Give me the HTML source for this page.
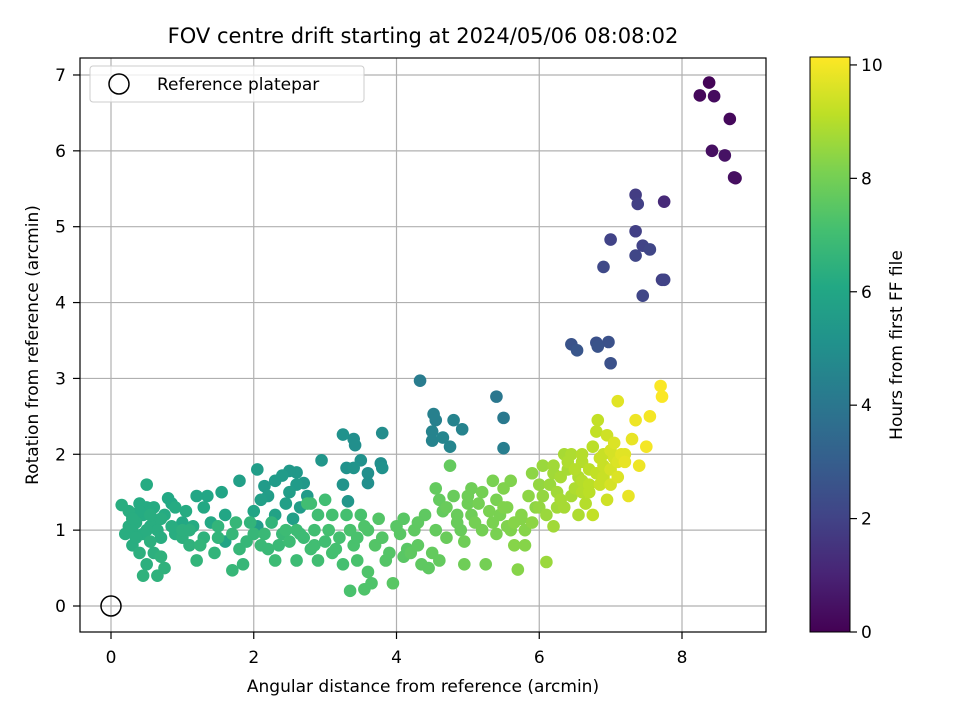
<!DOCTYPE html>
<html><head><meta charset="utf-8"><style>
body{margin:0;background:#fff;}
svg{display:block;font-family:"DejaVu Sans","Liberation Sans",sans-serif;}
</style></head><body>
<svg id="chart" width="960" height="720" viewBox="0 0 960 720">
<defs>
<linearGradient id="vir" x1="0" y1="1" x2="0" y2="0">
<stop offset="0" stop-color="#440154"/><stop offset="0.1" stop-color="#482475"/><stop offset="0.2" stop-color="#414487"/><stop offset="0.3" stop-color="#355f8d"/><stop offset="0.4" stop-color="#2a788e"/><stop offset="0.5" stop-color="#21918c"/><stop offset="0.6" stop-color="#22a884"/><stop offset="0.7" stop-color="#44bf70"/><stop offset="0.8" stop-color="#7ad151"/><stop offset="0.9" stop-color="#bddf26"/><stop offset="1" stop-color="#fde725"/>
</linearGradient>
<clipPath id="plotclip"><rect x="80" y="58" width="686" height="574"/></clipPath>
</defs>
<text x="423" y="43" font-size="21" text-anchor="middle">FOV centre drift starting at 2024/05/06 08:08:02</text>
<g id="grid"></g>
<g id="points" clip-path="url(#plotclip)"></g>
<circle id="refpt" r="10" fill="none" stroke="#000" stroke-width="1.5"/>
<rect x="80" y="58" width="686" height="574" fill="none" stroke="#000" stroke-width="1.2"/>
<g id="ticks"></g>
<text x="423" y="692" font-size="17" text-anchor="middle">Angular distance from reference (arcmin)</text>
<text transform="translate(38,345) rotate(-90)" font-size="17" text-anchor="middle">Rotation from reference (arcmin)</text>
<g>
<rect x="90" y="66" width="274" height="36" rx="3" fill="#fff" fill-opacity="0.8" stroke="#ccc"/>
<circle cx="119" cy="84" r="10" fill="none" stroke="#000" stroke-width="1.5"/>
<text x="157" y="90" font-size="17">Reference platepar</text>
</g>
<rect x="810" y="57" width="40" height="575" fill="url(#vir)" stroke="#000" stroke-width="1"/>
<g id="cbticks"></g>
<text transform="translate(902,345) rotate(-90)" font-size="17" text-anchor="middle">Hours from first FF file</text>
</svg>
<script>
const xTicks=[0,2,4,6,8];
const yTicks=[0,1,2,3,4,5,6,7];
const cbTicks=[0,2,4,6,8,10];
const px=[8.38,8.25,8.45,8.67,8.42,8.6,8.75,8.73,7.75,7.35,7.38,7.35,7.0,7.45,7.55,7.35,6.9,7.72,7.75,7.45,6.45,6.53,6.8,6.82,6.97,7.0,4.33,5.4,5.5,4.52,4.55,4.5,4.5,4.65,4.8,4.92,4.75,5.5,3.8,3.4,3.42,3.25,3.5,3.6,3.6,3.78,3.8,3.3,3.4,3.25,3.32,2.95,2.6,2.5,2.4,2.3,2.15,2.05,1.8,2.2,2.5,2.6,2.7,2.65,2.55,2.75,2.1,2.3,2.0,1.55,1.6,1.35,1.3,1.4,1.2,1.05,1.15,0.9,0.8,0.85,0.75,0.6,0.5,0.45,0.4,0.3,0.25,0.2,0.3,0.45,0.55,0.6,0.5,0.65,0.7,0.4,0.5,0.45,0.65,0.75,0.7,0.35,0.25,0.55,0.15,0.9,1.0,1.1,1.2,1.25,1.45,1.5,1.7,1.8,1.7,1.85,1.95,2.0,2.1,2.2,2.3,2.25,2.4,2.5,2.6,2.7,2.8,2.85,2.9,3.0,3.1,3.2,3.25,3.35,3.4,3.45,3.35,3.55,3.6,3.65,3.5,3.7,3.75,3.95,3.1,2.8,3.0,3.3,3.6,3.8,4.0,4.1,4.2,4.3,4.35,4.45,4.5,4.6,4.1,4.25,4.4,4.55,4.7,4.55,4.75,4.8,4.85,4.9,4.95,5.0,5.1,5.2,5.25,4.95,5.3,5.4,5.5,5.6,5.65,5.7,5.8,5.75,5.85,5.9,6.0,6.0,6.05,6.1,6.1,6.2,6.25,6.3,6.35,6.4,6.45,6.5,6.55,6.6,6.65,6.7,6.75,6.8,6.82,6.85,6.9,6.95,6.95,7.0,7.05,7.1,7.1,7.15,7.2,7.25,7.3,7.35,7.4,7.5,7.55,7.7,7.72,6.6,6.85,7.0,7.05,6.7,6.5,6.3,6.6,5.2,5.35,5.5,5.9,5.0,4.7,4.3,3.9,5.4,5.6,5.8,6.2,6.35,2.75,2.9,2.6,
0.35,0.5,0.7,0.85,1.0,0.4,0.6,0.3,1.1,1.3,1.5,1.75,1.9,2.15,2.35,2.45,2.65,2.85,3.05,3.15,3.45,3.55,3.85,4.05,4.15,4.65,4.85,5.05,5.15,5.35,5.45,5.55,5.65,5.95,6.05,6.15,6.25,6.45,6.55,6.7,6.75,6.9,6.9,7.0,7.1,7.2,6.2,6.4,6.6,6.8,5.75,5.55,5.05,4.6,2.45,2.05,1.6,1.0,0.55,0.3];
const py=[6.9,6.73,6.72,6.42,6.0,5.94,5.64,5.65,5.33,5.42,5.3,4.94,4.83,4.75,4.7,4.62,4.47,4.3,4.3,4.09,3.45,3.37,3.47,3.42,3.48,3.2,2.97,2.76,2.48,2.53,2.45,2.3,2.18,2.22,2.45,2.33,2.1,2.08,2.28,2.2,2.12,2.26,1.92,1.75,1.62,1.88,1.82,1.82,1.82,1.6,1.38,1.92,1.76,1.78,1.72,1.65,1.58,1.8,1.65,1.45,1.5,1.6,1.62,1.3,1.15,1.45,1.4,1.2,1.25,1.5,1.2,1.45,1.3,1.1,1.45,1.25,1.05,1.3,1.42,1.35,1.2,1.1,1.3,1.2,1.35,1.0,1.25,0.95,0.8,0.95,0.85,0.7,1.6,1.0,1.15,0.7,0.55,0.4,0.4,0.5,0.65,1.1,1.05,1.2,1.33,0.95,0.9,0.8,0.6,0.8,0.7,0.9,0.95,0.75,0.47,0.55,1.1,0.95,0.8,0.75,0.6,1.1,0.95,0.85,0.6,0.9,0.75,1.0,0.6,0.85,0.7,0.9,0.55,1.0,0.8,0.6,0.2,0.22,0.45,0.3,1.2,0.8,1.15,0.3,1.2,1.35,1.4,1.2,1.0,0.9,1.05,0.65,0.7,0.8,0.55,0.5,0.7,0.6,1.15,1.0,1.2,1.0,0.9,1.55,1.85,1.45,1.2,1.0,0.85,1.35,1.1,1.0,0.55,0.55,1.25,1.4,1.3,1.0,0.8,0.48,0.8,1.2,1.45,1.1,1.6,1.3,1.85,0.58,1.2,1.05,1.5,1.7,1.3,1.8,2.0,1.55,1.2,1.9,1.35,1.8,1.2,2.3,2.45,1.6,2.0,1.4,2.25,1.8,2.15,2.7,1.7,2.0,1.9,1.45,2.2,2.45,1.85,2.1,2.5,2.9,2.76,2.0,1.95,2.05,1.95,1.6,1.8,1.4,1.5,1.5,1.65,1.55,1.75,1.45,1.3,1.1,0.7,0.95,1.65,1.0,1.85,2.0,1.35,1.2,1.0,
0.9,1.0,0.9,1.05,1.0,1.25,1.3,1.15,1.0,0.9,1.05,1.1,0.85,0.95,0.8,1.0,0.95,0.8,1.0,0.75,0.9,1.05,0.6,0.95,0.75,1.25,1.1,1.2,1.35,1.1,1.2,1.3,1.1,1.3,1.45,1.6,1.3,1.45,1.7,1.5,2.1,1.7,1.85,1.6,1.9,2.0,1.75,1.9,1.65,1.75,1.15,1.05,1.55,1.4,1.35,1.05,0.85,1.1,1.05,1.15];
const hours=[0.1,0.2,0.3,0.2,0.4,0.5,0.3,0.4,1.2,1.8,1.9,1.9,2.0,2.0,2.1,2.1,2.2,1.9,2.0,2.1,2.6,2.7,2.5,2.6,2.5,2.5,4.2,4.0,4.1,4.4,4.4,4.5,4.5,4.6,4.5,4.5,4.6,4.3,4.9,5.0,5.0,5.1,5.1,5.0,5.0,5.0,5.1,5.1,5.2,5.2,5.3,5.3,5.4,5.4,5.5,5.5,5.5,5.6,5.7,5.6,5.6,5.5,5.4,5.6,5.7,5.5,5.7,5.8,5.9,5.9,6.0,6.0,6.1,6.1,6.0,6.2,6.2,6.2,6.1,6.1,6.2,6.3,6.2,6.2,6.2,6.3,6.3,6.3,6.3,6.3,6.4,6.4,6.2,6.3,6.3,6.4,6.4,6.5,6.5,6.5,6.5,6.3,6.3,6.3,6.3,6.3,6.4,6.5,6.6,6.6,6.6,6.6,6.7,6.7,6.7,6.7,6.6,6.7,6.8,6.8,6.9,6.6,6.8,6.9,6.9,6.9,7.0,7.0,7.0,7.0,7.1,7.1,7.1,7.2,7.2,7.2,7.2,7.3,7.3,7.3,7.2,7.4,7.4,7.5,7.1,7.0,7.0,7.1,7.3,7.4,7.5,7.5,7.6,7.6,7.6,7.6,7.7,7.7,7.5,7.6,7.6,7.7,7.8,7.7,7.7,7.8,7.8,7.8,7.9,7.9,8.0,8.0,8.0,7.9,8.1,8.1,8.2,8.2,8.3,8.3,8.3,8.3,8.4,8.4,8.5,8.5,8.6,8.6,8.6,8.7,8.7,8.8,8.8,8.8,8.9,8.9,8.9,9.0,9.0,9.1,9.2,9.2,9.2,9.3,9.3,9.4,9.4,9.5,9.6,9.7,9.6,9.7,9.8,9.8,9.8,9.9,9.9,10.0,10.0,10.1,10.1,9.0,9.3,9.5,9.5,9.1,9.0,8.8,9.0,8.0,8.1,8.2,8.4,7.9,7.8,7.6,7.4,8.1,8.2,8.3,8.7,8.8,7.0,7.0,6.9,
6.3,6.3,6.3,6.3,6.4,6.2,6.2,6.3,6.4,6.5,6.6,6.7,6.7,6.8,6.8,6.9,6.9,7.0,7.1,7.1,7.2,7.3,7.4,7.5,7.5,7.7,7.8,7.9,8.0,8.1,8.1,8.2,8.3,8.4,8.5,8.6,8.7,8.8,8.9,9.1,9.1,9.3,9.3,9.5,9.6,9.7,8.7,8.9,9.0,9.2,8.3,8.2,7.9,7.7,5.7,5.6,5.9,6.1,6.2,6.3];
const vmax=10.14;
const NS="http://www.w3.org/2000/svg";
const xS=v=>111+v*71.375;
const yS=v=>606-v*75.86;
const cS=v=>632-v*(575/vmax);
const vir=["#440154","#482475","#414487","#355f8d","#2a788e","#21918c","#22a884","#44bf70","#7ad151","#bddf26","#fde725"];
function hex(c){return [1,3,5].map(i=>parseInt(c.substr(i,2),16));}
function cmap(h){let t=Math.max(0,Math.min(1,h/vmax))*10;let i=Math.min(9,Math.floor(t));let f=t-i;let a=hex(vir[i]),b=hex(vir[i+1]);return "rgb("+a.map((v,k)=>Math.round(v+(b[k]-v)*f)).join(",")+")";}
function mk(tag,attrs,parent){const e=document.createElementNS(NS,tag);for(const k in attrs)e.setAttribute(k,attrs[k]);parent.appendChild(e);return e;}
const grid=document.getElementById("grid"),ticks=document.getElementById("ticks"),pts=document.getElementById("points"),cbt=document.getElementById("cbticks");
xTicks.forEach(v=>{const x=xS(v);
const g=mk("line",{x1:x,x2:x,y1:58,y2:632,stroke:"#b0b0b0","stroke-width":1.2},grid);


const t=mk("line",{x1:x,x2:x,y1:632,y2:639,stroke:"#000","stroke-width":1.2},ticks);


const l=mk("text",{x:x,y:663,"font-size":17,"text-anchor":"middle"},ticks);l.textContent=v;

});
yTicks.forEach(v=>{const y=yS(v);
const g=mk("line",{x1:80,x2:766,y1:y,y2:y,stroke:"#b0b0b0","stroke-width":1.2},grid);


const t=mk("line",{x1:73,x2:80,y1:y,y2:y,stroke:"#000","stroke-width":1.2},ticks);


const l=mk("text",{x:66,y:y+6,"font-size":17,"text-anchor":"end"},ticks);l.textContent=v;

});
cbTicks.forEach(v=>{const y=cS(v);
const t=mk("line",{x1:850,x2:857,y1:y,y2:y,stroke:"#000","stroke-width":1.2},cbt);


const l=mk("text",{x:861,y:y+6,"font-size":17},cbt);l.textContent=v;

});
const order=px.map((_,i)=>i).sort((a,b)=>hours[a]-hours[b]);
order.forEach(i=>{const c=mk("circle",{cx:xS(px[i]),cy:yS(py[i]),r:6.3,fill:cmap(hours[i])},pts);

});
const r=document.getElementById("refpt");r.setAttribute("cx",xS(0));r.setAttribute("cy",yS(0));
</script>
</body></html>
